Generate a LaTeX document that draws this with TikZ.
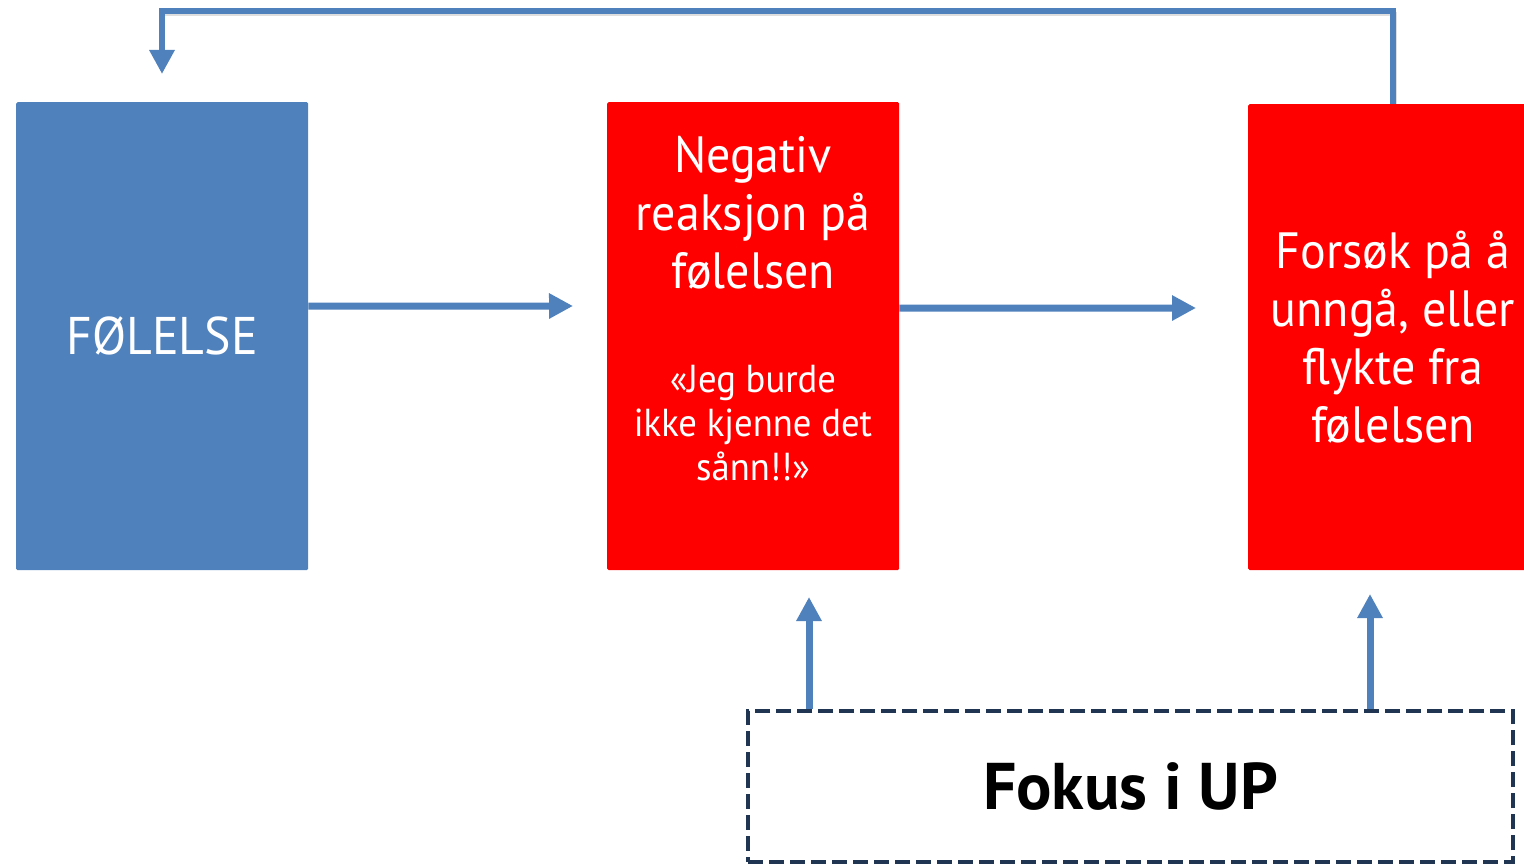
\documentclass[tikz,border=0pt]{standalone}
\usepackage{fontspec}
\setmainfont{PT Sans}
\newfontfamily\narrowfont{PT Sans}[FakeStretch=0.94]
\usetikzlibrary{arrows.meta}
\definecolor{boxblue}{RGB}{79,129,189}
\definecolor{navy}{RGB}{31,53,82}
\definecolor{bred}{RGB}{255,0,0}
\begin{document}
\begin{tikzpicture}[x=1pt,y=-1pt,
  arr/.style={draw=boxblue, line width=7pt, -{Triangle[length=24pt,width=24pt]}},
  fback/.style={draw=boxblue, line width=6.5pt, -{Triangle[length=24pt,width=24pt]}},
  panel/.style={draw=none, inner sep=0pt, rounded corners=1.5pt, anchor=north west},
  bigtxt/.style={text=white, font=\narrowfont\fontsize{51}{58}\selectfont, align=center, inner sep=0pt},
  smalltxt/.style={text=white, font=\narrowfont\fontsize{39}{44}\selectfont, align=center, inner sep=0pt},
  focusbox/.style={draw=navy, line width=4pt, dash pattern=on 15pt off 6pt, fill=white, inner sep=0pt, font=\bfseries\fontsize{66}{70}\selectfont}]
\useasboundingbox (0,0) rectangle (1524,866);
\fill[white] (0,0) rectangle (1524,866);

% boxes
\node[panel, fill=boxblue, minimum width=292pt, minimum height=468pt] (fol) at (16,102) {};
\node[panel, fill=bred, minimum width=292pt, minimum height=468pt] (neg) at (607,102) {};
\node[panel, fill=bred, minimum width=290pt, minimum height=466pt] (fors) at (1248,104) {};

% texts
\node[text=white, inner sep=0pt, font=\narrowfont\fontsize{53}{58}\selectfont] (folt) at (fol.center) {FØLELSE};
\node[bigtxt] (negt) at (753,213) {Negativ\\reaksjon på\\følelsen};
\node[smalltxt] (negq) at (753,423) {«Jeg burde\\ikke kjenne det\\sånn!!»};
\node[bigtxt] (forst) at (1393,337) {Forsøk på å\\unngå, eller\\flykte fra\\følelsen};

% focus box
\node[focusbox, minimum width=765pt, minimum height=151pt] (fok) at (1130.5,786.5) {Fokus i UP};

% coordinates
\coordinate (a1) at (573,306);
\coordinate (a2) at (1196,308);
\coordinate (topL) at (162,11);
\coordinate (fbend) at (162,74);
\coordinate (u1) at (809,597);
\coordinate (u2) at (1370,594);

% horizontal arrows
\draw[arr] ([yshift=30pt]fol.east) -- (a1);
\draw[arr] ([yshift=28pt]neg.east) -- (a2);

% feedback loop (with faint shadow)
\draw[black!25, opacity=0.5, line width=4pt] ([xshift=2pt]fors.north) |- ([yshift=-3pt]topL);
\draw[fback] (fors.north) |- (topL) -- (fbend);

% up arrows
\draw[arr] (fok.north -| u1) -- (u1);
\draw[arr] (fok.north -| u2) -- (u2);
\end{tikzpicture}
\end{document}
